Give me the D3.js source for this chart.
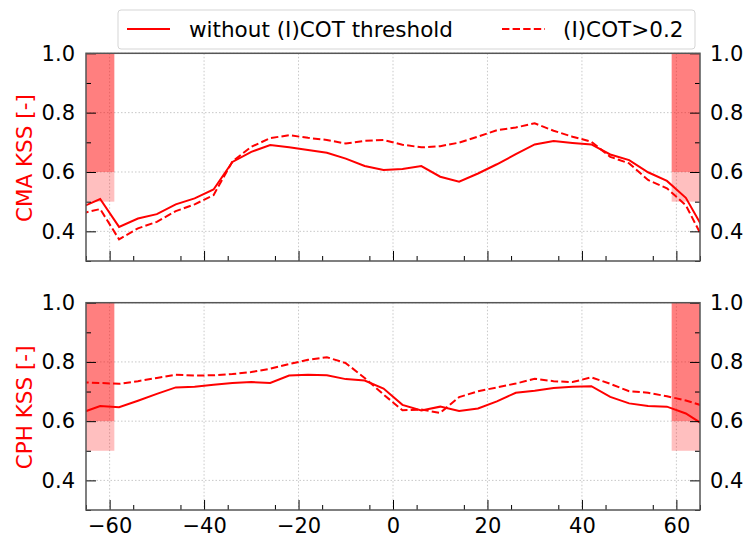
<!DOCTYPE html>
<html>
<head>
<meta charset="utf-8">
<script src="https://cdn.jsdelivr.net/npm/d3@7"></script>
<style>
  body { margin: 0; background: #fff; }
  svg { display: block; font-family: "DejaVu Sans", sans-serif; }
  .grid line { stroke: #c8c8c8; stroke-dasharray: 1.5 2; }
</style>
</head>
<body>
<svg id="chart" width="745" height="541"></svg>
<script>
// latitude bins
const lat = [-66, -62, -58, -54, -50, -46, -42, -38, -34, -30, -26, -22, -18, -14, -10, -6, -2,
  2, 6, 10, 14, 18, 22, 26, 30, 34, 38, 42, 46, 50, 54, 58, 62, 66]

const cmaAll = [0.481, 0.509, 0.415, 0.443, 0.458, 0.491, 0.511, 0.541, 0.634, 0.668, 0.691, 0.683,
  0.674, 0.665, 0.645, 0.620, 0.607, 0.610, 0.620, 0.584, 0.567, 0.595, 0.626, 0.660, 0.693, 0.704,
  0.698, 0.693, 0.659, 0.640, 0.599, 0.570, 0.513, 0.401]
const cmaCot = [0.460, 0.475, 0.373, 0.410, 0.432, 0.468, 0.491, 0.522, 0.635, 0.685, 0.714, 0.724,
  0.715, 0.708, 0.696, 0.705, 0.708, 0.692, 0.683, 0.687, 0.699, 0.719, 0.741, 0.750, 0.764, 0.739,
  0.719, 0.702, 0.651, 0.629, 0.573, 0.545, 0.488, 0.364]
const cphAll = [0.628, 0.651, 0.647, 0.669, 0.692, 0.714, 0.716, 0.723, 0.729, 0.732, 0.729, 0.754,
  0.757, 0.755, 0.742, 0.737, 0.710, 0.655, 0.636, 0.649, 0.634, 0.643, 0.667, 0.696, 0.703, 0.712,
  0.716, 0.718, 0.682, 0.660, 0.651, 0.649, 0.626, 0.585]
const cphCot = [0.731, 0.729, 0.726, 0.735, 0.746, 0.757, 0.754, 0.755, 0.759, 0.766, 0.777, 0.793,
  0.807, 0.816, 0.796, 0.746, 0.690, 0.637, 0.639, 0.628, 0.681, 0.701, 0.714, 0.727, 0.743, 0.735,
  0.732, 0.748, 0.726, 0.701, 0.696, 0.684, 0.670, 0.650]

const xTicks = [-60, -40, -20, 0, 20, 40, 60]
const yTicks = [0.4, 0.6, 0.8, 1.0]
// polar bands, [x0, x1, y0, y1, alpha]
const bands = [[-66, -59, 0.6, 1.0, 0.5], [-66, -59, 0.5, 0.6, 0.25],
  [59, 66, 0.6, 1.0, 0.5], [59, 66, 0.5, 0.6, 0.25]]
const legendLabels = ['without (I)COT threshold', '(I)COT>0.2']

const LEFT = 86
const RIGHT = 700
const FONT = 21
const LABEL_FONT = 21.5
const RED = '#ff0000'
const DASH = '7.4 3.2'

let svg = d3.select('#chart')
let x = d3.scaleLinear().domain([-65, 65]).range([LEFT, RIGHT])

let drawPanel = function (id, top, bottom, label, solid, dashed, showX) {
  let y = d3.scaleLinear().domain([0.3, 1.0]).range([bottom, top])
  let g = svg.append('g').attr('id', id)

  g.append('defs').append('clipPath').attr('id', `${id}-clip`)
    .append('rect')
    .attr('x', LEFT).attr('y', top)
    .attr('width', RIGHT - LEFT).attr('height', bottom - top)

  // grid
  let grid = g.append('g').classed('grid', true)
  grid.selectAll('.gx').data(xTicks).join('line')
    .attr('x1', d => x(d)).attr('x2', d => x(d))
    .attr('y1', top).attr('y2', bottom)
  grid.selectAll('.gy').data(yTicks).join('line')
    .attr('x1', LEFT).attr('x2', RIGHT)
    .attr('y1', d => y(d)).attr('y2', d => y(d))

  let chart = g.append('g').attr('clip-path', `url(#${id}-clip)`)
  chart.selectAll('rect.band').data(bands).join('rect')
    .classed('band', true)
    .attr('x', d => x(d[0]))
    .attr('width', d => x(d[1]) - x(d[0]))
    .attr('y', d => y(d[3]))
    .attr('height', d => y(d[2]) - y(d[3]))
    .attr('fill', RED)
    .attr('fill-opacity', d => d[4])

  let line = d3.line().x((d, i) => x(lat[i])).y(d => y(d))
  chart.append('path')
    .attr('d', line(solid))
    .attr('fill', 'none').attr('stroke', RED).attr('stroke-width', 2)
  chart.append('path')
    .attr('d', line(dashed))
    .attr('fill', 'none').attr('stroke', RED).attr('stroke-width', 2)
    .attr('stroke-dasharray', DASH)

  // axes, ticks pointing inward
  let styleAxis = function (sel) {
    sel.select('.domain').remove()
    sel.selectAll('text').style('font-size', `${FONT}px`).style('font-family', 'DejaVu Sans').attr('fill', '#000')
    sel.selectAll('line').attr('stroke', '#000')
  }
  let fmt = d3.format('.1f')
  g.append('g').attr('transform', `translate(${LEFT},0)`)
    .call(d3.axisRight(y).tickValues(yTicks).tickSize(10).tickFormat(''))
    .call(styleAxis)
  g.append('g').attr('transform', `translate(${LEFT},0)`)
    .call(d3.axisRight(y).tickValues([0.3, 0.5, 0.7, 0.9]).tickSize(5).tickFormat(''))
    .call(styleAxis)
  g.append('g').attr('transform', `translate(${LEFT},0)`)
    .call(d3.axisLeft(y).tickValues(yTicks).tickSize(0).tickPadding(11).tickFormat(fmt))
    .call(styleAxis)
  g.append('g').attr('transform', `translate(${RIGHT},0)`)
    .call(d3.axisLeft(y).tickValues(yTicks).tickSize(10).tickFormat(''))
    .call(styleAxis)
  g.append('g').attr('transform', `translate(${RIGHT},0)`)
    .call(d3.axisLeft(y).tickValues([0.3, 0.5, 0.7, 0.9]).tickSize(5).tickFormat(''))
    .call(styleAxis)
  g.append('g').attr('transform', `translate(${RIGHT},0)`)
    .call(d3.axisRight(y).tickValues(yTicks).tickSize(0).tickPadding(10).tickFormat(fmt))
    .call(styleAxis)
  g.append('g').attr('transform', `translate(0,${bottom})`)
    .call(d3.axisTop(x).tickValues(xTicks).tickSize(10).tickFormat(''))
    .call(styleAxis)
  g.append('g').attr('transform', `translate(0,${bottom})`)
    .call(d3.axisTop(x).tickValues([-65, -55, -45, -35, -25, -15, -5, 5, 15, 25, 35, 45, 55, 65]).tickSize(5).tickFormat(''))
    .call(styleAxis)
  if (showX) {
    g.append('g').attr('transform', `translate(0,${bottom})`)
      .call(d3.axisBottom(x).tickValues(xTicks).tickSize(0).tickPadding(8)
        .tickFormat(d => d < 0 ? `\u2212${-d}` : `${d}`))
      .call(styleAxis)
  }

  g.append('rect')
    .attr('x', LEFT).attr('y', top)
    .attr('width', RIGHT - LEFT).attr('height', bottom - top)
    .attr('fill', 'none').attr('stroke', '#555').attr('stroke-width', 1.5)

  g.append('text')
    .attr('transform', `translate(32,${(top + bottom) / 2 + 1}) rotate(-90)`)
    .attr('text-anchor', 'middle')
    .attr('fill', RED)
    .style('font-size', `${LABEL_FONT}px`)
    .text(label)
}

drawPanel('cma', 53.3, 261, 'CMA KSS [-]', cmaAll, cmaCot, false)
drawPanel('cph', 302.7, 510, 'CPH KSS [-]', cphAll, cphCot, true)

// legend
let legend = svg.append('g')
legend.append('rect')
  .attr('x', 118).attr('y', 10).attr('width', 577).attr('height', 39)
  .attr('rx', 3)
  .attr('fill', '#fff').attr('fill-opacity', 0.8)
  .attr('stroke', '#d5d5d5').attr('stroke-width', 1)
let items = [[127, 189, null], [502, 563, DASH]]
items.forEach((it, i) => {
  legend.append('line')
    .attr('x1', it[0]).attr('x2', it[0] + 43)
    .attr('y1', 29).attr('y2', 29)
    .attr('stroke', RED).attr('stroke-width', 2)
    .attr('stroke-dasharray', it[2])
  legend.append('text')
    .attr('x', it[1]).attr('y', 36.5)
    .style('font-size', `${LABEL_FONT}px`)
    .text(legendLabels[i])
})
</script>
</body>
</html>
